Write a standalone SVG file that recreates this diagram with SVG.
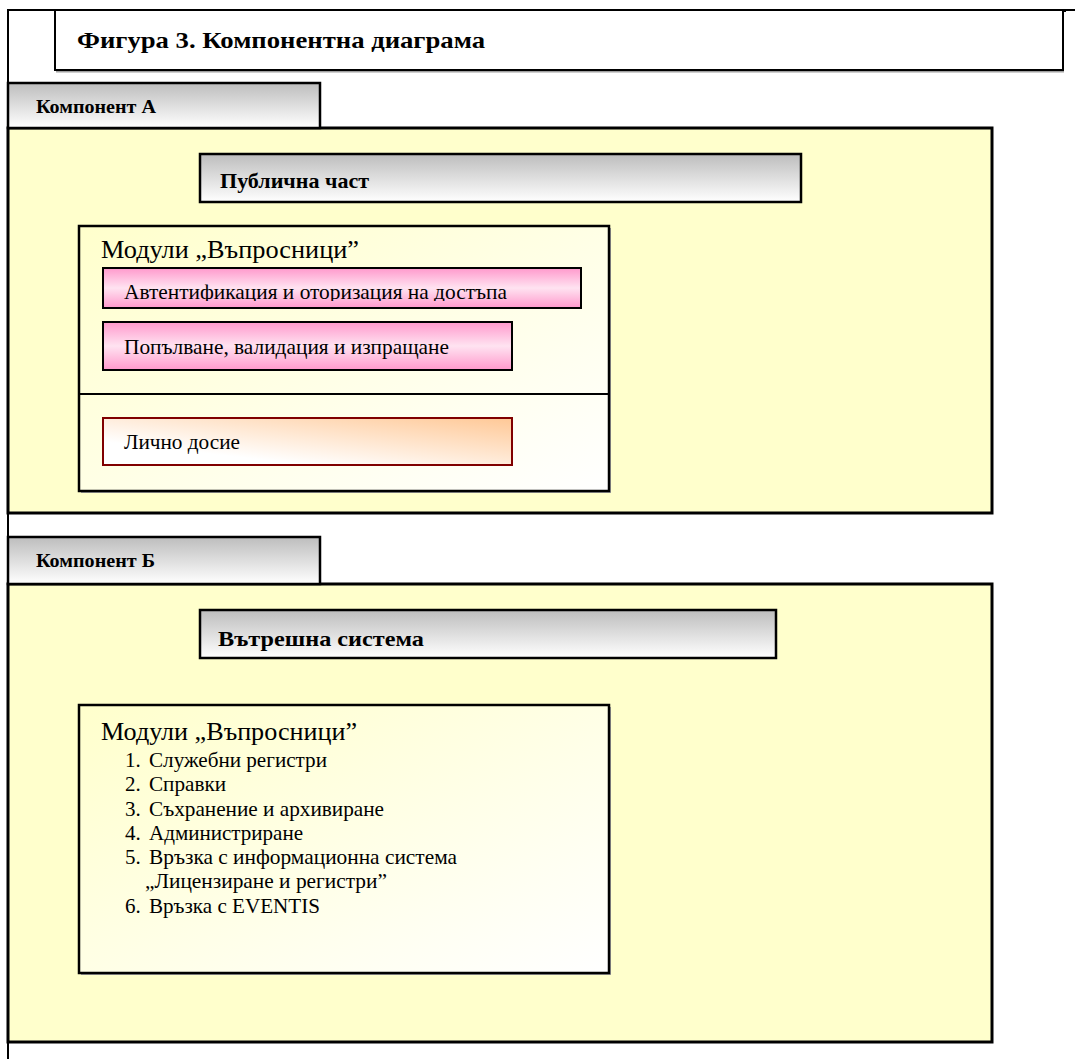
<svg xmlns="http://www.w3.org/2000/svg" width="1075" height="1059" viewBox="0 0 1075 1059">
<defs>
<linearGradient id="gGray" x1="0" y1="0" x2="0" y2="1"><stop offset="0" stop-color="#bdbdbd"/><stop offset="1" stop-color="#ffffff"/></linearGradient>
<linearGradient id="gPink" x1="0" y1="0" x2="0" y2="1"><stop offset="0" stop-color="#ff99cc"/><stop offset="0.5" stop-color="#ffe3f1"/><stop offset="1" stop-color="#ff99cc"/></linearGradient>
<linearGradient id="gPeach" x1="0" y1="1" x2="1" y2="0"><stop offset="0.25" stop-color="#ffffff"/><stop offset="1" stop-color="#ffc896"/></linearGradient>
<linearGradient id="gMod" x1="0" y1="0" x2="1" y2="1"><stop offset="0" stop-color="#ffffcc"/><stop offset="1" stop-color="#ffffff"/></linearGradient>
<clipPath id="clipAuth"><rect x="104" y="269" width="476" height="32"/></clipPath>
</defs>
<style>
.t{font-family:"Liberation Serif","Times New Roman",serif;fill:#000}
.b{font-weight:bold}
.yel{fill:#ffffcc;stroke:#000;stroke-width:3}
.tab{fill:url(#gGray);stroke:#000;stroke-width:2.5}
.hdr{fill:url(#gGray);stroke:#000;stroke-width:2.5}
.mod{fill:url(#gMod);stroke:#000;stroke-width:2.5}
.pink{fill:url(#gPink);stroke:#000;stroke-width:2}
.peach{fill:url(#gPeach);stroke:#800000;stroke-width:2}
.sh{fill:#a0a0a0}
</style>
<rect width="1075" height="1059" fill="#ffffff"/>
<g id="frame">
<line x1="8" y1="10" x2="1075" y2="10" stroke="#000" stroke-width="2"/>
<line x1="8" y1="9" x2="8" y2="1059" stroke="#000" stroke-width="2"/>
<line x1="1065" y1="9" x2="1065" y2="12" stroke="#000" stroke-width="2"/>
</g>
<g id="title">
<rect x="56" y="71" width="1008" height="1.5" class="sh"/>
<rect x="55" y="10" width="1008" height="60" fill="#fff" stroke="#000" stroke-width="2"/>
<text x="77" y="48" class="t b" font-size="24" textLength="408" lengthAdjust="spacingAndGlyphs">Фигура 3. Компонентна диаграма</text>
</g>
<g id="componentA">
<rect x="8" y="128" width="984" height="385" class="yel"/>
<rect x="8" y="83" width="312" height="45" class="tab"/>
<text x="36" y="113" class="t b" font-size="18" textLength="120" lengthAdjust="spacingAndGlyphs">Компонент А</text>
</g>
<g id="publicPart">
<rect x="200" y="154" width="601" height="48" class="hdr"/>
<text x="220" y="188" class="t b" font-size="21" textLength="149" lengthAdjust="spacingAndGlyphs">Публична част</text>
</g>
<g id="modulesA">
<rect x="81" y="228" width="530" height="265" class="sh"/>
<rect x="79" y="226" width="530" height="265" class="mod"/>
<line x1="79" y1="394" x2="609" y2="394" stroke="#000" stroke-width="2"/>
<text x="101" y="258" class="t" font-size="25" textLength="258" lengthAdjust="spacingAndGlyphs">Модули „Въпросници”</text>
</g>
<g id="auth">
<rect x="103" y="268" width="478" height="40" class="pink"/>
<text x="124" y="299" class="t" font-size="21" textLength="383" lengthAdjust="spacingAndGlyphs" clip-path="url(#clipAuth)">Автентификация и оторизация на достъпа</text>
</g>
<g id="fill">
<rect x="103" y="322" width="409" height="48" class="pink"/>
<text x="124" y="354" class="t" font-size="21" textLength="325" lengthAdjust="spacingAndGlyphs">Попълване, валидация и изпращане</text>
</g>
<g id="dossier">
<rect x="103" y="418" width="409" height="47" class="peach"/>
<text x="124" y="449" class="t" font-size="21" textLength="116" lengthAdjust="spacingAndGlyphs">Лично досие</text>
</g>
<g id="componentB">
<rect x="8" y="584" width="984" height="458" class="yel"/>
<rect x="8" y="537" width="312" height="47" class="tab"/>
<text x="36" y="567" class="t b" font-size="18" textLength="119" lengthAdjust="spacingAndGlyphs">Компонент Б</text>
</g>
<g id="internal">
<rect x="200" y="610" width="576" height="48" class="hdr"/>
<text x="218" y="646" class="t b" font-size="21" textLength="206" lengthAdjust="spacingAndGlyphs">Вътрешна система</text>
</g>
<g id="modulesB">
<rect x="81" y="707" width="530" height="268" class="sh"/>
<rect x="79" y="705" width="530" height="268" class="mod"/>
<text x="101" y="740" class="t" font-size="25" textLength="256" lengthAdjust="spacingAndGlyphs">Модули „Въпросници”</text>
<g class="t" font-size="21">
<text x="125" y="767">1.</text><text x="149" y="767" textLength="178" lengthAdjust="spacingAndGlyphs">Служебни регистри</text>
<text x="125" y="791">2.</text><text x="149" y="791" textLength="77" lengthAdjust="spacingAndGlyphs">Справки</text>
<text x="125" y="816">3.</text><text x="149" y="816" textLength="235" lengthAdjust="spacingAndGlyphs">Съхранение и архивиране</text>
<text x="125" y="840">4.</text><text x="149" y="840" textLength="154" lengthAdjust="spacingAndGlyphs">Администриране</text>
<text x="125" y="864">5.</text><text x="149" y="864" textLength="308" lengthAdjust="spacingAndGlyphs">Връзка с информационна система</text>
<text x="145" y="888" textLength="242" lengthAdjust="spacingAndGlyphs">„Лицензиране и регистри”</text>
<text x="125" y="913">6.</text><text x="149" y="913" textLength="171" lengthAdjust="spacingAndGlyphs">Връзка с EVENTIS</text>
</g>
</g>
<g id="connectors"/>
</svg>
